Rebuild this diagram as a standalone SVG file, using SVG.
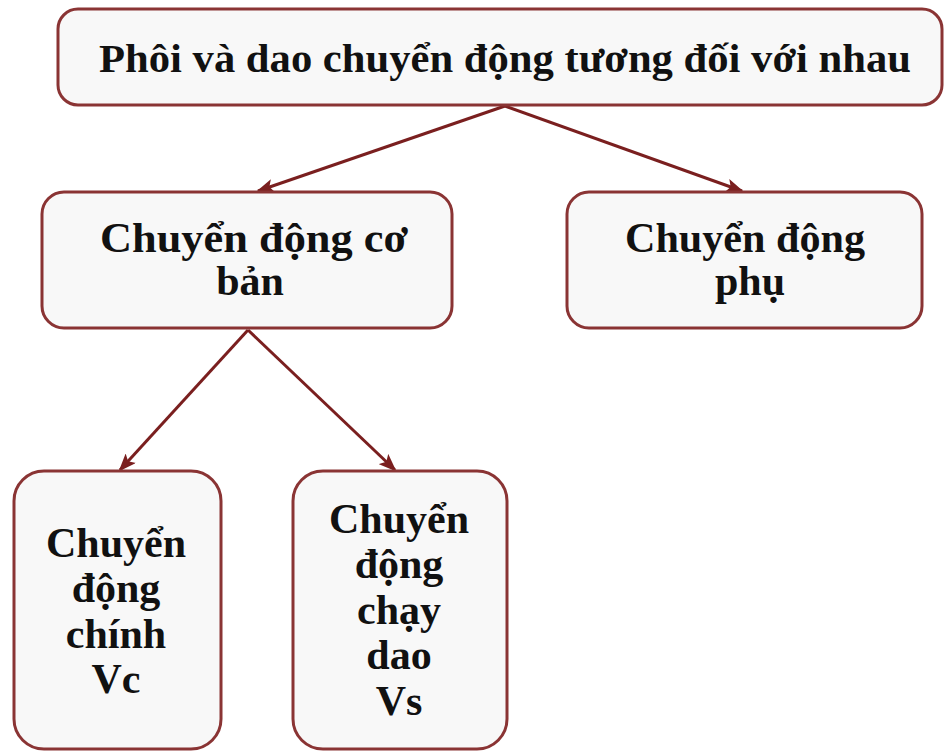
<svg xmlns="http://www.w3.org/2000/svg" width="945" height="753" viewBox="0 0 945 753">
<style>
.box{fill:#f8f8f8;stroke:#8a3434;stroke-width:3}
.t{font-family:"Liberation Serif","Times New Roman",serif;font-weight:bold;fill:#111;text-anchor:middle}
.c{stroke:#7a1f1f;stroke-width:3;fill:none}
</style>
<defs>
<marker id="ah" viewBox="0 0 18 14" refX="16" refY="7" markerWidth="18" markerHeight="14" markerUnits="userSpaceOnUse" orient="auto">
<path d="M0,0 L18,7 L0,14 L4,7 z" fill="#7a1f1f"/>
</marker>
</defs>
<rect width="945" height="753" fill="#fff"/>
<g id="connectors">
<line class="c" x1="505" y1="106" x2="258" y2="191" marker-end="url(#ah)"/>
<line class="c" x1="505" y1="106" x2="742" y2="191" marker-end="url(#ah)"/>
<line class="c" x1="248" y1="330" x2="120" y2="470" marker-end="url(#ah)"/>
<line class="c" x1="248" y1="330" x2="395" y2="470" marker-end="url(#ah)"/>
</g>
<g id="root">
<rect class="box" x="58" y="9" width="884" height="96" rx="20"/>
<text class="t" x="505" y="72" font-size="40" textLength="812" lengthAdjust="spacingAndGlyphs">Phôi và dao chuyển động tương đối với nhau</text>
</g>
<g id="co-ban">
<rect class="box" x="42" y="192" width="410" height="136" rx="22"/>
<text class="t" x="254" y="252" font-size="42" textLength="308" lengthAdjust="spacingAndGlyphs">Chuyển động cơ</text>
<text class="t" x="250" y="295" font-size="42">bản</text>
</g>
<g id="phu">
<rect class="box" x="567" y="192" width="355" height="136" rx="22"/>
<text class="t" x="745" y="252" font-size="42" textLength="240" lengthAdjust="spacingAndGlyphs">Chuyển động</text>
<text class="t" x="750" y="295" font-size="42">phụ</text>
</g>
<g id="chinh">
<rect class="box" x="14" y="471" width="207" height="278" rx="30"/>
<text class="t" x="116" y="557" font-size="42">Chuyển</text>
<text class="t" x="116" y="602" font-size="42">động</text>
<text class="t" x="116" y="648" font-size="42">chính</text>
<text class="t" x="116" y="693" font-size="42">Vc</text>
</g>
<g id="chay-dao">
<rect class="box" x="293" y="471" width="214" height="278" rx="30"/>
<text class="t" x="399" y="533" font-size="42">Chuyển</text>
<text class="t" x="399" y="578" font-size="42">động</text>
<text class="t" x="399" y="624" font-size="42">chạy</text>
<text class="t" x="399" y="669" font-size="42">dao</text>
<text class="t" x="399" y="715" font-size="42">Vs</text>
</g>
</svg>
